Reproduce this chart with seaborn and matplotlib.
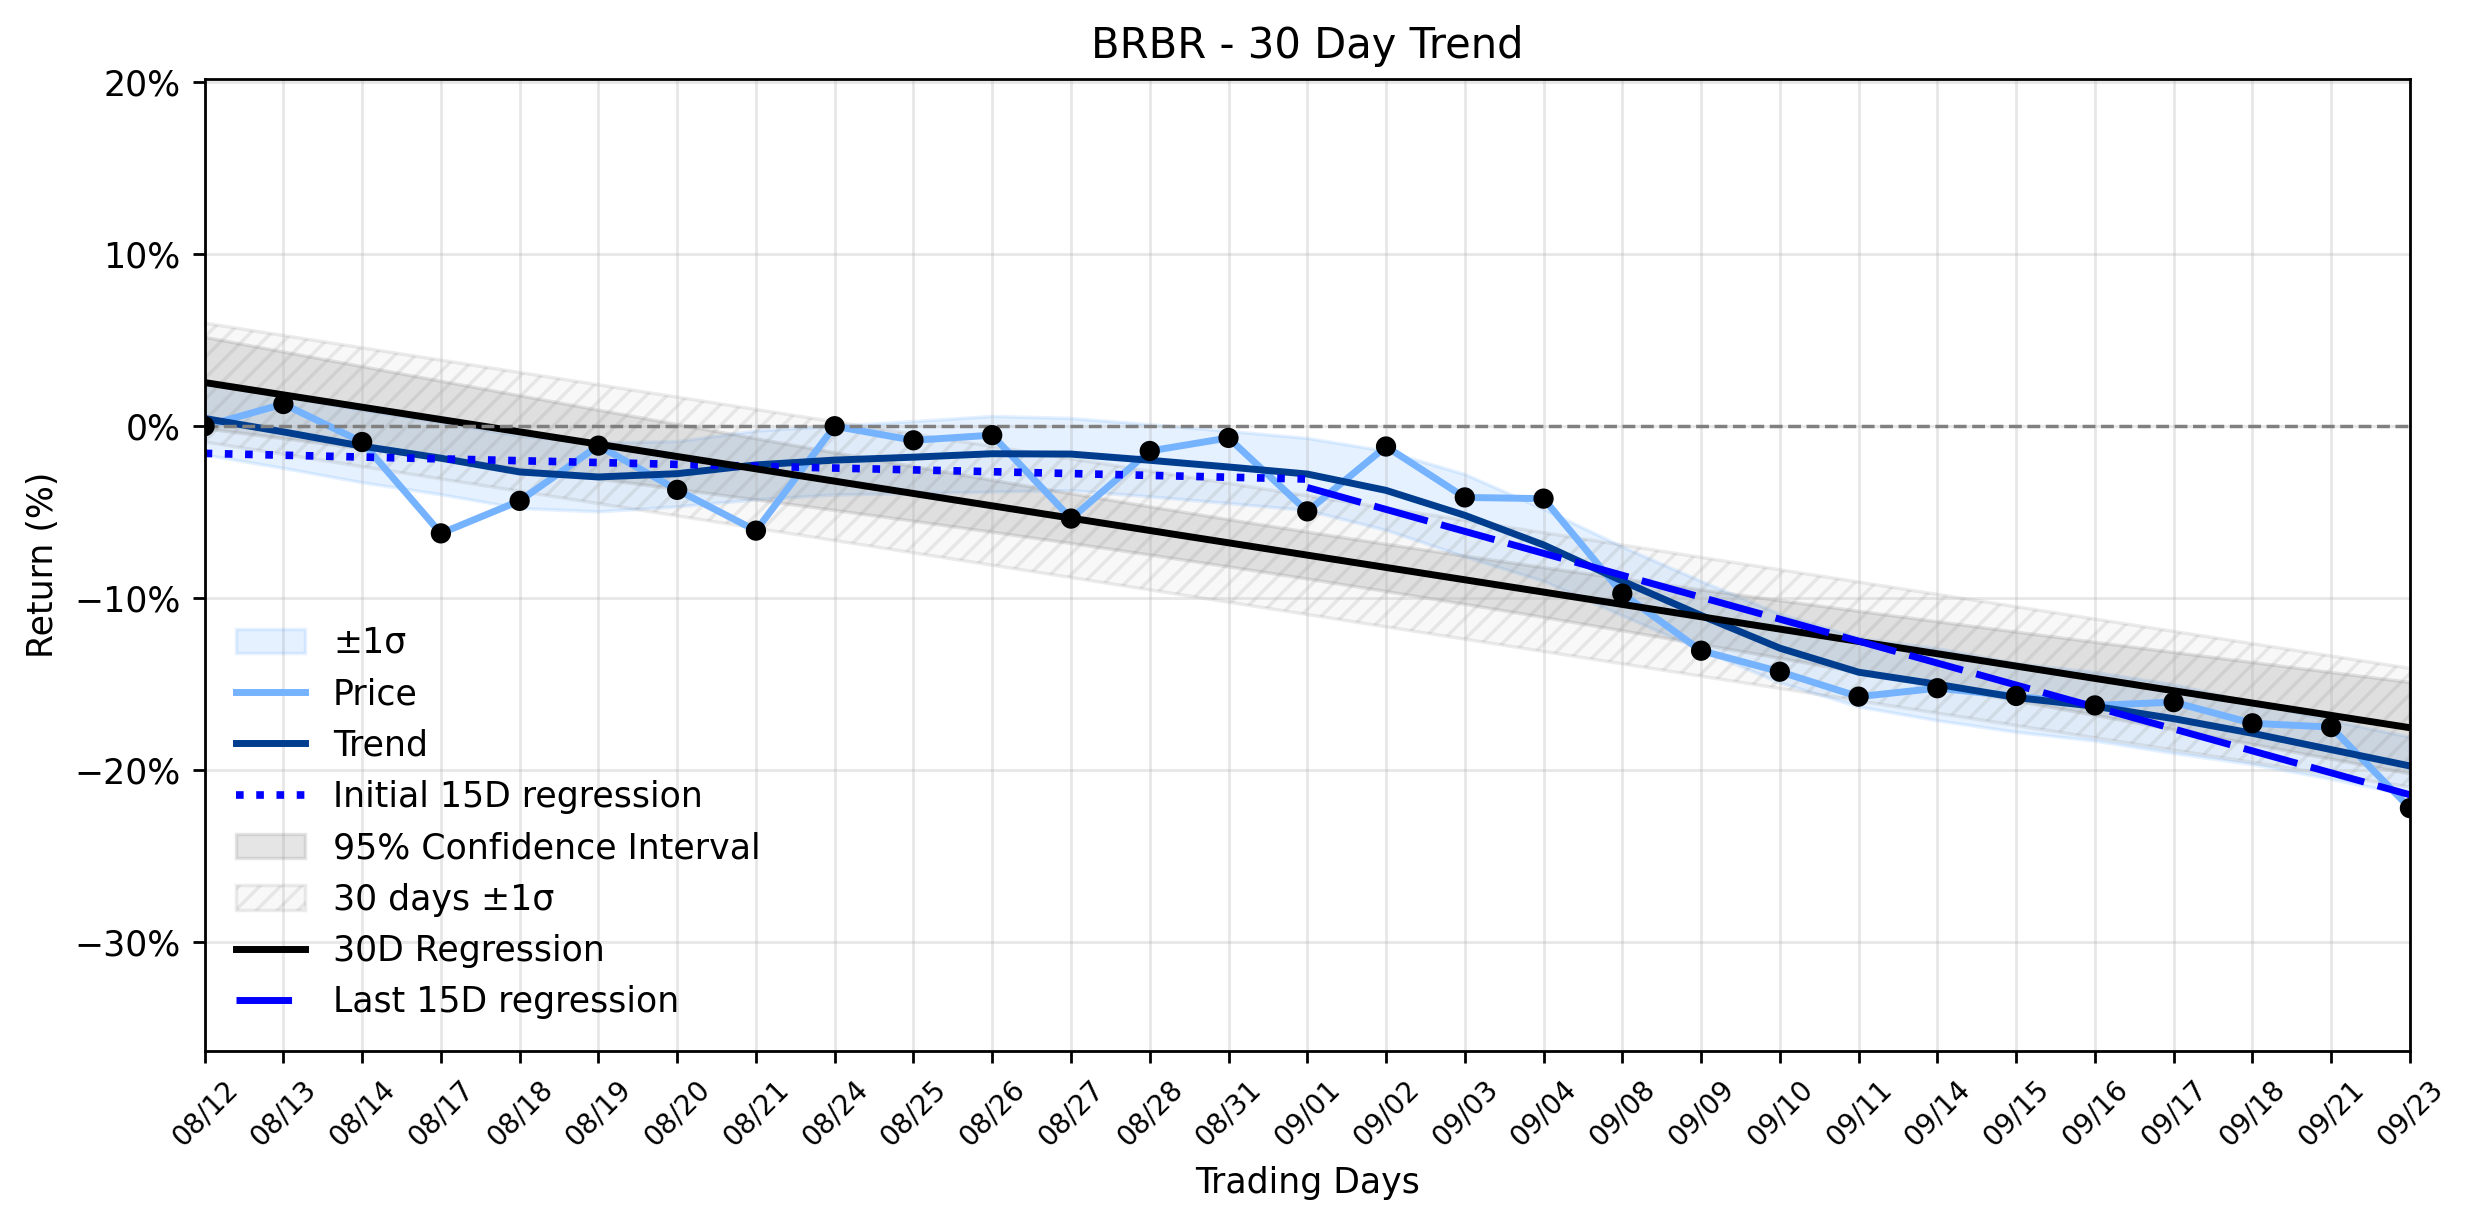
import numpy as np
import matplotlib
matplotlib.use("Agg")
import matplotlib.pyplot as plt
import seaborn as sns
from matplotlib.ticker import PercentFormatter

# Datos (retorno acumulado en %)
dates = ["08/12", "08/13", "08/14", "08/17", "08/18", "08/19", "08/20", "08/21",
         "08/24", "08/25", "08/26", "08/27", "08/28", "08/31", "09/01", "09/02",
         "09/03", "09/04", "09/08", "09/09", "09/10", "09/11", "09/14", "09/15",
         "09/16", "09/17", "09/18", "09/21", "09/23"]

price = [0.0, 1.29, -0.92, -6.23, -4.34, -1.13, -3.70, -6.07,
         0.0, -0.82, -0.52, -5.37, -1.44, -0.68, -4.95, -1.18,
         -4.14, -4.21, -9.73, -13.05, -14.27, -15.72, -15.23, -15.68,
         -16.23, -16.04, -17.27, -17.49, -22.20]

trend = [0.45, -0.33, -1.16, -1.86, -2.66, -2.95, -2.76, -2.25,
         -1.97, -1.80, -1.60, -1.62, -1.98, -2.37, -2.78, -3.73,
         -5.18, -6.90, -9.00, -11.00, -12.90, -14.30, -15.00, -15.77,
         -16.28, -17.00, -17.85, -18.80, -19.75]

trend_sigma = [2.1, 2.1, 2.1, 2.1, 2.1, 2.0, 1.9, 2.0,
               2.0, 2.1, 2.2, 2.1, 2.1, 2.1, 2.1, 2.3,
               2.4, 2.1, 2.0, 2.0, 2.0, 2.0, 2.1, 2.0,
               2.0, 2.0, 1.8, 1.7, 1.7]

T_95 = 2.052  # t de Student, 27 grados de libertad

x = np.arange(len(price))
y = np.array(price)
tr = np.array(trend)
sg = np.array(trend_sigma)

# Regresion 30 dias
coef = np.polyfit(x, y, 1)
fit = np.polyval(coef, x)
resid = y - fit
n = len(x)
s = np.sqrt(np.sum(resid ** 2) / (n - 2))
se = s * np.sqrt(1 / n + (x - x.mean()) ** 2 / np.sum((x - x.mean()) ** 2))
sd_30 = np.std(resid)

# Regresiones de 15 dias
x_ini = x[:15]
fit_ini = np.polyval(np.polyfit(x_ini, y[:15], 1), x_ini)
x_end = x[14:]
fit_end = np.polyval(np.polyfit(x_end, y[14:], 1), x_end)

fig, ax = plt.subplots(figsize=(2474 / 250, 1224 / 250), dpi=250)
fig.subplots_adjust(left=0.0827, right=0.9741, top=0.9357, bottom=0.1416)

ax.fill_between(x, tr - sg, tr + sg, color="#0078ff", alpha=0.1, label="±1σ")
sns.lineplot(x=x, y=y, ax=ax, color="#76b3ff", lw=2, label="Price")
sns.lineplot(x=x, y=tr, ax=ax, color="#003d8f", lw=2, label="Trend")
sns.lineplot(x=x_ini, y=fit_ini, ax=ax, color="#0000ff", lw=2.2,
             linestyle=":", label="Initial 15D regression")
ax.fill_between(x, fit - T_95 * se, fit + T_95 * se, color="gray", alpha=0.2,
                label="95% Confidence Interval")
ax.fill_between(x, fit - sd_30, fit + sd_30, facecolor=(0.5, 0.5, 0.5, 0.05),
                edgecolor=(0.5, 0.5, 0.5, 0.15), hatch="////", lw=1,
                label="30 days ±1σ")
sns.lineplot(x=x, y=fit, ax=ax, color="black", lw=2, label="30D Regression")
sns.lineplot(x=x_end, y=fit_end, ax=ax, color="#0000ff", lw=2,
             linestyle=(0, (8, 2)), label="Last 15D regression")
ax.axhline(0, color="gray", linestyle="--", lw=1)
sns.scatterplot(x=x, y=y, ax=ax, color="black", s=34, zorder=5,
                edgecolor="none", legend=False)

order = ["±1σ", "Price", "Trend", "Initial 15D regression",
         "95% Confidence Interval", "30 days ±1σ", "30D Regression",
         "Last 15D regression"]
handles, labels = ax.get_legend_handles_labels()
hmap = dict(zip(labels, handles))
ax.legend([hmap[k] for k in order], order, loc="lower left", frameon=False,
          fontsize=10)

ax.set_xlim(0, n - 1)
ax.set_ylim(-36.3, 20.2)
ax.set_xticks(x)
ax.set_xticklabels(dates, rotation=45, fontsize=8)
ax.yaxis.set_major_formatter(PercentFormatter(decimals=0))
ax.grid(True, alpha=0.3)
ax.set_title("BRBR - 30 Day Trend", fontsize=12)
ax.set_xlabel("Trading Days")
ax.set_ylabel("Return (%)")

fig.savefig("out.png", dpi=250)
